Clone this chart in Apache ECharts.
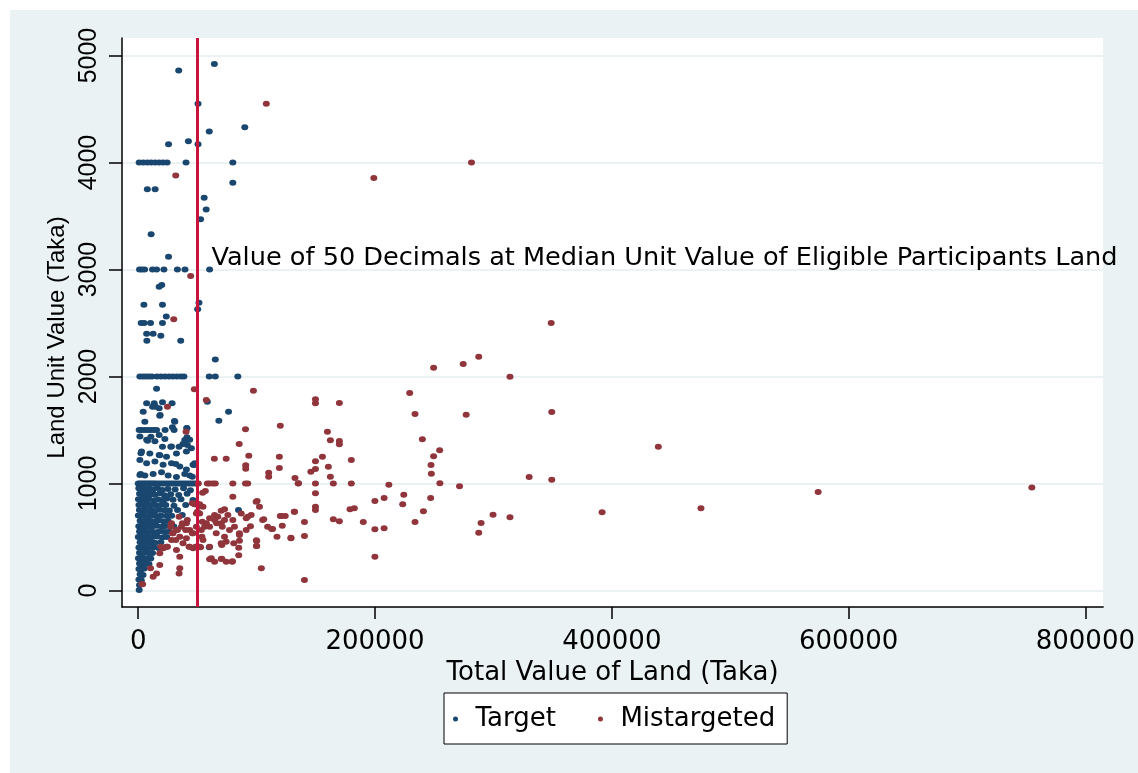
<!DOCTYPE html>
<html>
<head>
<meta charset="utf-8">
<script src="https://cdn.jsdelivr.net/npm/echarts@6/dist/echarts.min.js"></script>
<style>
  html, body { margin: 0; padding: 0; background: #ffffff; }
  #chart { position: absolute; left: 10px; top: 10px; width: 1128px; height: 763px; }
</style>
</head>
<body>
<div id="chart"></div>
<script>
// tick labels
var xTicks = [0, 200000, 400000, 600000, 800000];
var yTicks = [0, 1000, 2000, 3000, 4000, 5000];

// cut-off line and its note
var cutoffValue = 50000;
var noteText = "Value of 50 Decimals at Median Unit Value of Eligible Participants Land";
var notePoint = [50000, 3100];

// Target: [total value, unit value]
var targetUpper = [
  [34200,4860],[64300,4920],[50500,4550],[60000,4290],[90000,4330],[42400,4200],[50500,4170],[25600,4170],
  [800,4000],[4200,4000],[7700,4000],[10900,4000],[14300,4000],[17700,4000],[21000,4000],[24400,4000],[40400,4000],[79900,4000],
  [7700,3750],[14300,3750],[79900,3810],[55700,3670],[57400,3560],[52700,3470],[10900,3330],[25600,3120],
  [1100,3000],[3100,3000],[5400,3000],[12100,3000],[15500,3000],[21700,3000],[33100,3000],[39500,3000],[60300,3000],
  [17700,2840],[19900,2855],
  [4800,2670],[20500,2670],[51300,2690],[50200,2630],[23700,2560],
  [2500,2500],[5000,2500],[10400,2500],[20500,2500],
  [7100,2400],[12600,2400],[19100,2380],[7300,2335],[35900,2335],[65100,2160]
];
var targetMiddle = [
  [1400,2000],[4000,2000],[6500,2000],[9000,2000],[11500,2000],[15800,2000],[19100,2000],[22500,2000],
  [25900,2000],[29200,2000],[32600,2000],[36000,2000],[38600,2000],[60000,2000],[65100,2000],[84100,2000],
  [15500,1885],[7100,1750],[13500,1750],[12100,1718],[17700,1703],[28600,1750],[18200,1634],[5600,1578],
  [30600,1584],[4200,1671],[58400,1765],[76300,1671],[68100,1587],[14600,1718],[20500,1759],[18500,1640],
  [30900,1578],[41200,1516],[41200,1432],[39300,1407],
  [800,1500],[3000,1500],[5500,1500],[8000,1500],[10500,1500],[13000,1500],[15500,1500],[22700,1500],
  [28900,1525],[30300,1500],[41000,1520],
  [1400,1440],[7100,1410],[14100,1395],[22500,1415],[28100,1345],[37800,1370],[43500,1410],
  [2800,1300],[9800,1280],[18200,1265],[23900,1250],[32300,1280],[40700,1300],[44900,1330],
  [1400,1220],[7100,1190],[14100,1205],[21000,1175],[28100,1190],[35100,1160],[40700,1130],[46300,1175],
  [2000,1090],[5600,1075],[12600,1090],[19700,1105],[25300,1075],[32300,1060],[39300,1090],[43500,1075],
  [7900,1400],[20500,1344],[27500,1344],[34500,1344],[41500,1360],[2300,1282],[17700,1266],[31700,1182],
  [47100,1173],[1400,1079],[45700,1064],[47700,1189],[10700,1437],[17700,1453]
];
var targetLower = [
  [0,1000],[1500,1000],[3000,1000],[4500,1000],[6000,1000],[7500,1000],[9000,1000],[10500,1000],[12000,1000],
  [13500,1000],[15000,1000],[17000,1000],[19000,1000],[21000,1000],[23000,1000],[25000,1000],[27000,1000],
  [29000,1000],[31000,1000],[33000,1000],[35000,1000],[37000,1000],[39000,1000],[41000,1000],[43000,1000],
  [45000,1000],[47000,1000],[49000,1000],
  [500,955],[2600,948],[4700,960],[7100,942],[9600,952],[12700,945],[16200,958],[20300,940],[25100,950],[31200,944],[38300,955],[44100,938],
  [1100,905],[3200,898],[5600,910],[8100,892],[11200,903],[14100,896],[18300,908],[22100,890],[27400,900],[34200,893],[41300,905],
  [200,852],[2100,845],[4100,858],[6200,848],[9100,855],[13200,842],[17100,850],[21300,846],[24200,860],[29400,848],[36100,852],[46200,845],
  [600,800],[2500,805],[5100,795],[7600,808],[10100,798],[12600,802],[15200,796],[20100,805],[23300,800],[30200,792],[40100,800],[48100,806],
  [1000,752],[3600,746],[6100,755],[8600,748],[11100,750],[14200,744],[18100,756],[22200,750],[26300,748],[33200,752],
  [100,702],[2100,698],[4600,706],[7100,695],[9600,700],[12100,704],[15100,696],[19200,702],[24100,700],[28200,698],[37200,705],
  [1600,652],[3600,645],[6100,655],[8100,648],[10600,650],[13600,644],[17200,656],[21100,648],[25200,652],
  [500,600],[2600,604],[5100,596],[7600,602],[10100,598],[12200,600],[15600,605],[20100,596],[23200,602],[30100,598],
  [1100,552],[3100,546],[5600,555],[8600,548],[11600,550],[14600,545],[18100,554],[22200,548],[26100,552],
  [100,500],[2100,504],[4100,496],[6600,502],[9100,498],[12100,500],[16100,505],[20200,496],[24100,500],
  [1600,452],[3600,445],[6100,455],[8100,448],[11100,450],[14100,446],[19100,452],
  [600,402],[2600,398],[5100,405],[7600,396],[10100,400],[13100,404],[17200,398],[22100,402],
  [1100,352],[3100,346],[6100,355],[9100,348],[12100,350],
  [200,302],[2100,296],[4600,305],[7100,298],[10600,300],
  [1100,252],[3600,246],[6100,255],[9100,248],
  [600,202],[2600,196],[5100,205],
  [1600,152],[4100,146],[600,102],[2600,96],[1100,52],[800,5],
  [84700,752],[60000,404]
];

// Mistargeted: [total value, unit value]
var mistargetedUpper = [
  [108200,4550],[281500,4000],[199000,3855],[31700,3880],[44300,2940],[30000,2535],[348800,2500],
  [249500,2083],[274500,2117],[287600,2185],[314000,1998],[229300,1846],[233800,1650],[277000,1643],[349300,1668],
  [97300,1867],[47400,1880],[57500,1780],[24700,1718],[40400,1484],
  [90600,1507],[120000,1540],[85300,1369],[93400,1260],[64300,1232],[74300,1232],[90800,1170],[90800,1138],
  [119200,1251],[119200,1145],[110200,1101],[110200,1064],
  [149700,1787],[149700,1750],[169900,1752],[159800,1484],[162300,1404],[169900,1397],[169900,1366],[155600,1251],
  [149700,1208],[149700,1135],[160600,1157],[162300,1064],[180000,1220],[145800,1110],[132400,1051],[135400,1002],
  [50800,1000],[58400,1000],[60300,1000],[63100,1000],[65100,1000],[79900,1000],[90600,1000],[92500,1000],
  [135100,1000],[149700,1000],[164800,1000],[180000,1000],[211700,989],[254800,1002],[271400,974],[330200,1061],[349300,1036],
  [247300,1173],[249500,1254],[247600,1092],[240000,1413],[254600,1310],
  [439300,1344],[391800,731],[475300,768],[574300,921],[754800,964]
];
var mistargetedLower = [
  [224300,895],[223400,806],[207700,864],[199900,837],[178900,759],[182500,768],[149700,908],[149700,783],[149700,752],[132000,737],
  [164800,665],[169900,647],[190100,640],[199900,572],[207700,581],[233800,640],[240900,740],[247000,864],[287600,540],[289600,631],
  [299700,708],[314000,684],[199900,316],[140400,98],[140400,640],[140400,509],[129000,488],[117200,503],[121700,606],[124200,696],
  [120000,696],[106000,665],[112700,575],[100400,836],[102400,783],[104000,207],[100100,463],[100100,416],
  [49100,806],[51900,806],[54700,783],[49100,721],[51900,721],[28100,628],[32300,565],[36500,596],[40700,628],[43500,565],
  [46300,535],[49100,596],[53300,565],[57500,628],[60300,596],[64500,659],[67300,690],[70100,628],[72900,659],[75700,706],
  [79900,659],[29400,535],[35100,503],[40700,488],[43500,409],[46300,394],[49100,409],[51900,409],[23900,409],[21000,394],
  [28100,472],[32300,379],[35100,316],[18200,348],[37800,441],[54700,472],[60300,409],[65900,535],[70100,441],[72900,503],
  [77100,565],[81300,596],[85500,535],[91200,565],[92500,690],[95400,706],[99600,830],[105100,659],[109300,596],[113500,575],
  [129000,493],[131800,737],[121100,696],[87000,721],[91200,675],[79900,877],[72900,759],[70100,746],
  [61700,301],[64500,269],[70100,294],[74300,269],[79400,269],
  [51600,790],[49400,815],[56100,596],[60300,675],[64500,706],[66200,628],[71000,596],[53800,503],[50500,404],[52700,404],
  [70600,425],[74300,456],[80700,441],[60300,292],[70600,297],[79600,273],[84900,329],[84900,400],[85500,519],[85500,465],
  [94800,600],[99800,469],[99800,416],[56700,930],[54400,914],[47700,806],
  [45700,815],[50000,737],[41500,659],[33100,565],[37300,628],[28900,535],[19100,409],[24700,409],[31700,472],[42900,409],
  [48500,409],[27500,596],[34500,690],[40100,565],[45700,535],[54200,643],
  [3700,58],[10400,207],[12600,129],[18200,238],[15500,160],[35100,207],[34500,160],[3100,61]
];

var targetData = targetUpper.concat(targetMiddle, targetLower);
var mistargetedData = mistargetedUpper.concat(mistargetedLower);

var dot = 'path://M0,5A5,5 0 1,0 10,5A5,5 0 1,0 0,5Z';
var wideFont = 'DejaVu Sans';
var narrowFont = 'Liberation Sans';

var myChart = echarts.init(document.getElementById('chart'));
var option = {
  backgroundColor: '#eaf2f3',
  animation: false,
  grid: {
    left: 112, top: 28, right: 32, bottom: 166,
    show: true, backgroundColor: '#ffffff', borderWidth: 0
  },
  legend: {
    data: ['Target', 'Mistargeted'],
    left: 434, top: 683,
    orient: 'horizontal',
    icon: 'circle',
    itemWidth: 10, itemHeight: 5, itemGap: 42,
    padding: [13, 12, 12, 9],
    backgroundColor: '#ffffff',
    borderColor: '#000000', borderWidth: 1,
    textStyle: { color: '#000', fontSize: 26, fontFamily: wideFont, padding: [0, 0, 0, 10] }
  },
  xAxis: {
    type: 'value',
    min: -13700, max: 815000,
    name: 'Total Value of Land (Taka)',
    nameLocation: 'middle', nameGap: 40,
    nameTextStyle: { color: '#000', fontSize: 26, fontFamily: wideFont },
    axisLine: { show: true, onZero: false, lineStyle: { color: '#000', width: 1.5 } },
    axisTick: { show: true, length: 12, customValues: xTicks, lineStyle: { color: '#000', width: 1.5 } },
    axisLabel: {
      customValues: xTicks, margin: 22,
      color: '#000', fontSize: 26, fontFamily: wideFont,
      formatter: function (v) { return String(v); }
    },
    splitLine: { show: false }
  },
  yAxis: {
    type: 'value',
    min: -154, max: 5164,
    name: 'Land Unit Value (Taka)',
    nameLocation: 'middle', nameGap: 50,
    nameTextStyle: { color: '#000', fontSize: 24, fontFamily: narrowFont, padding: [0, 30, 0, 0] },
    axisLine: { show: true, onZero: false, lineStyle: { color: '#000', width: 1.5 } },
    axisTick: { show: true, length: 13, customValues: yTicks, lineStyle: { color: '#000', width: 1.5 } },
    axisLabel: {
      customValues: yTicks, rotate: 90, margin: 20,
      color: '#000', fontSize: 25, fontFamily: narrowFont,
      formatter: function (v) { return String(v); }
    },
    splitLine: { show: true, lineStyle: { color: '#eaf2f3', width: 2 } }
  },
  series: [
    {
      name: 'Target', type: 'scatter',
      data: targetData,
      symbol: dot, symbolSize: [7, 6],
      itemStyle: { color: '#1a476f', opacity: 1 },
      emphasis: { disabled: true }
    },
    {
      name: 'Mistargeted', type: 'scatter',
      data: mistargetedData,
      symbol: dot, symbolSize: [7, 6],
      itemStyle: { color: '#90353b', opacity: 1 },
      emphasis: { disabled: true }
    },
    {
      name: 'note', type: 'scatter',
      data: [notePoint],
      symbolSize: 0,
      silent: true,
      itemStyle: { opacity: 1 },
      label: {
        show: true, position: 'right', distance: 14,
        formatter: noteText,
        color: '#000', fontSize: 25.6, fontFamily: wideFont
      },
      markLine: {
        silent: true,
        symbol: ['none', 'none'],
        label: { show: false },
        lineStyle: { color: '#c8143c', width: 3, type: 'solid', opacity: 1 },
        data: [{ xAxis: cutoffValue }]
      },
      z: 3
    }
  ]
};
myChart.setOption(option);
</script>
</body>
</html>
